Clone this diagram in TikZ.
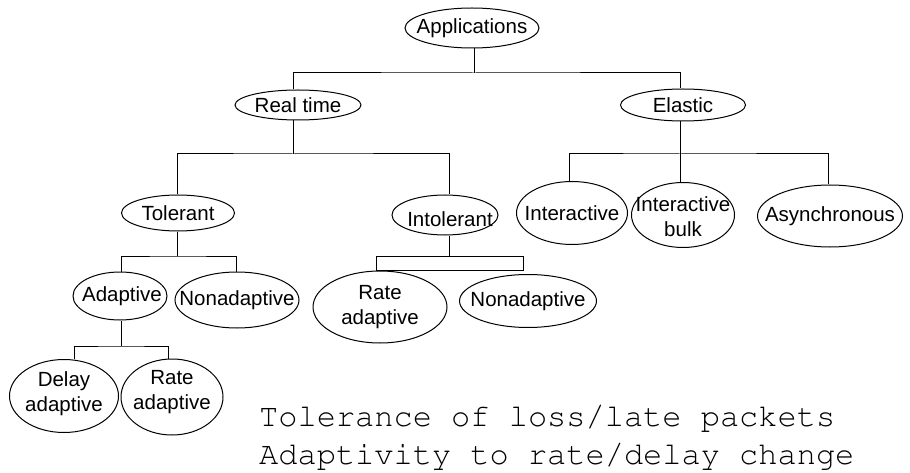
\documentclass[tikz,border=0pt]{standalone}
\usepackage[T1]{fontenc}
\usepackage{fontspec}
\usetikzlibrary{shapes.geometric}
\newfontfamily\labelfont{Liberation Sans}
\newcommand\notefont{\fontencoding{T1}\fontfamily{pcr}\selectfont}
\tikzset{
  cat/.style={draw, ellipse, inner sep=0pt, line width=1pt},
  txt/.style={inner sep=0pt, align=center,
              font=\labelfont\fontsize{20.5}{25}\selectfont},
  link/.style={line width=1pt},
  note/.style={anchor=base west, inner sep=0pt,
               font=\notefont\fontsize{32}{38}\selectfont}
}
\begin{document}
\begin{tikzpicture}[x=1pt, y=-1pt]
\useasboundingbox (0,0) rectangle (910,473);

% top levels
\node[cat, minimum width=134pt, minimum height=40pt,
      label={[txt]center:Applications}] (app) at (472,28) {};
\node[cat, minimum width=126pt, minimum height=30pt,
      label={[txt]center:Real time}] (rt) at (298,105) {};
\node[cat, minimum width=125pt, minimum height=32pt,
      label={[txt]center:Elastic}] (el) at (683,105) {};

% real-time branch
\node[cat, minimum width=113pt, minimum height=36pt,
      label={[txt]center:Tolerant}] (tol) at (178,213) {};
\node[cat, minimum width=106pt, minimum height=40pt,
      label={[txt, xshift=5pt, yshift=-4pt]center:Intolerant}] (intol) at (445,215) {};
\node[cat, minimum width=94pt, minimum height=48pt,
      label={[txt, xshift=2pt]center:Adaptive}] (adapt) at (120,296) {};
\node[cat, minimum width=124pt, minimum height=56pt,
      label={[txt]center:Nonadaptive}] (nona1) at (237,300) {};
\node[cat, minimum width=134pt, minimum height=72pt,
      label={[txt]center:{Rate\\adaptive}}] (rate1) at (380,307) {};
\node[cat, minimum width=137pt, minimum height=53pt,
      label={[txt]center:Nonadaptive}] (nona2) at (528,301) {};
\node[cat, minimum width=109pt, minimum height=73pt,
      label={[txt, yshift=2pt]center:{Delay\\adaptive}}] (delay) at (64,396) {};
\node[cat, minimum width=102pt, minimum height=76pt,
      label={[txt, yshift=5pt]center:{Rate\\adaptive}}] (rate2) at (172,397) {};

% elastic branch
\node[cat, minimum width=111pt, minimum height=63pt,
      label={[txt]center:Interactive}] (inter) at (572,213) {};
\node[cat, minimum width=103pt, minimum height=65pt,
      label={[txt, yshift=-2pt]center:{Interactive\\bulk}}] (ibulk) at (683,215) {};
\node[cat, minimum width=145pt, minimum height=62pt,
      label={[txt]center:Asynchronous}] (async) at (830,216) {};

% bus points of the tree
\coordinate (b0) at (474,73);
\coordinate (b1) at (293,154);
\coordinate (b2) at (680,154);
\coordinate (b3) at (177,256);
\coordinate (b4) at (449,256);
\coordinate (b5) at (121,346);

% connectors
\draw[link] ([xshift=2pt]app.south) -- (b0);
\draw[link] ([xshift=-5pt]rt.north) |- (b0) -| ([xshift=-3pt]el.north);

\draw[link] ([xshift=-5pt]rt.south) -- (b1);
\draw[link] ([xshift=-1pt]tol.north) |- (b1) -| ([xshift=4pt]intol.north);

\draw[link] ([xshift=-3pt]el.south) -- ([xshift=-3pt]ibulk.north);
\draw[link] ([xshift=-3pt]inter.north) |- (b2) -| ([xshift=-2pt]async.north);

\draw[link] ([xshift=-1pt]tol.south) -- (b3);
\draw[link] ([xshift=1pt]adapt.north) |- (b3) -| ([xshift=-1pt]nona1.north);

\draw[link] ([xshift=4pt]intol.south) -- (b4);
\draw[link] ([xshift=-4pt]rate1.north) rectangle ([xshift=-5pt]nona2.north |- b4);

\draw[link] ([xshift=1pt]adapt.south) -- (b5);
\draw[link] ([xshift=10pt]delay.north) |- (b5) -| ([xshift=-4pt]rate2.north);

% legend text
\node[note] (n1) at (259,426) {Tolerance of loss/late packets};
\node[note] (n2) at (259,464) {Adaptivity to rate/delay change};
\end{tikzpicture}
\end{document}
